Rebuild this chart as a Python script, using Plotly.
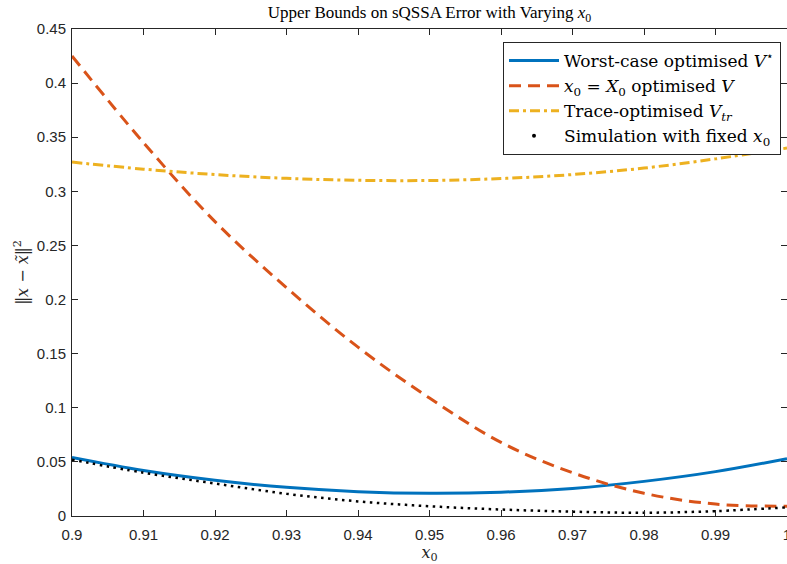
import plotly.graph_objects as go

# x0 grid
x0 = [0.90, 0.91, 0.92, 0.93, 0.94, 0.95, 0.96, 0.97, 0.98, 0.99, 1.00]

# Worst-case optimised V*
worst_case = [0.0540, 0.0420, 0.0330, 0.0265, 0.0225, 0.0210, 0.0220, 0.0255, 0.0320, 0.0410, 0.0530]
# x0 = X0 optimised V
x0_opt = [0.425, 0.345, 0.272, 0.211, 0.156, 0.109, 0.068, 0.040, 0.021, 0.011, 0.009]
# Trace-optimised V_tr
trace_opt = [0.327, 0.3205, 0.3155, 0.312, 0.3102, 0.3100, 0.3118, 0.3155, 0.3215, 0.330, 0.340]
# Simulation with fixed x0
simulation = [0.052, 0.040, 0.030, 0.0205, 0.0135, 0.0090, 0.0060, 0.0040, 0.0030, 0.0045, 0.0080]

x_ticks = [0.9, 0.91, 0.92, 0.93, 0.94, 0.95, 0.96, 0.97, 0.98, 0.99, 1.0]
x_ticktext = ["0.9", "0.91", "0.92", "0.93", "0.94", "0.95", "0.96", "0.97", "0.98", "0.99", "1"]
y_ticks = [0, 0.05, 0.1, 0.15, 0.2, 0.25, 0.3, 0.35, 0.4, 0.45]
y_ticktext = ["0", "0.05", "0.1", "0.15", "0.2", "0.25", "0.3", "0.35", "0.4", "0.45"]

BLUE = "#0072BD"
ORANGE = "#D95319"
YELLOW = "#EDB120"
AX = "#262626"
SERIF = "DejaVu Serif, Liberation Serif, serif"
TSERIF = "Liberation Serif, Times New Roman, serif"
SANS = "Liberation Sans, Arial, sans-serif"

fig = go.Figure()
fig.add_trace(go.Scatter(
    x=x0, y=worst_case, mode="lines", line=dict(color=BLUE, width=3, shape="spline"),
    name="Worst-case optimised <i>V</i><sup>\u22c6</sup>"))
fig.add_trace(go.Scatter(
    x=x0, y=x0_opt, mode="lines", line=dict(color=ORANGE, width=3, dash="12px,7px", shape="spline"),
    name="<i>x</i><sub>0</sub> = <i>X</i><sub>0</sub> optimised <i>V</i>"))
fig.add_trace(go.Scatter(
    x=x0, y=trace_opt, mode="lines", line=dict(color=YELLOW, width=3, dash="10px,4px,3px,4px", shape="spline"),
    name="Trace-optimised <i>V<sub>tr</sub></i>"))
fig.add_trace(go.Scatter(
    x=x0, y=simulation, mode="lines", line=dict(color="black", width=2.5, dash="2.5px,4.5px", shape="spline"),
    showlegend=False, legendgroup="sim", hoverinfo="skip"))
fig.add_trace(go.Scatter(
    x=[None], y=[None], mode="markers", marker=dict(color="black", size=4),
    name="Simulation with fixed <i>x</i><sub>0</sub>", legendgroup="sim"))

axis_common = dict(
    showline=True, linecolor=AX, linewidth=1, mirror="ticks",
    ticks="inside", ticklen=6, tickcolor=AX, tickwidth=1,
    showgrid=False, zeroline=False, ticklabeloverflow="allow", automargin=False,
    tickfont=dict(family=SANS, size=15, color=AX),
)

fig.update_layout(
    width=787, height=564,
    margin=dict(l=72, r=0, t=29, b=48),
    paper_bgcolor="white", plot_bgcolor="white",
    title=dict(text="Upper Bounds on sQSSA Error with Varying <i>x</i><sub>0</sub>",
               x=0.5, xref="paper", xanchor="center",
               y=1 - 12 / 564, yref="container", yanchor="middle",
               font=dict(family=TSERIF, size=17, color="black")),
    xaxis=dict(range=[0.9, 1.0], tickvals=x_ticks, ticktext=x_ticktext, ticklabelstandoff=5,
               title=dict(text="<i>x</i><sub>0</sub>", standoff=2,
                          font=dict(family=SERIF, size=16, color=AX)),
               **axis_common),
    yaxis=dict(range=[0, 0.45], tickvals=y_ticks, ticktext=y_ticktext, ticklabelstandoff=2,
               title=dict(text="\u2016<i>x</i> \u2212 <i>x\u0303</i>\u2016<sup>2</sup>", standoff=4,
                          font=dict(family=SERIF, size=16, color=AX)),
               **axis_common),
    legend=dict(x=(781 - 72) / 715, xanchor="right", y=(516 - 42) / 487, yanchor="top",
                bgcolor="white", bordercolor=AX, borderwidth=1,
                font=dict(family=SERIF, size=17, color="black"),
                itemwidth=50, tracegroupgap=0),
    showlegend=True,
)

fig.write_html("out.html")
